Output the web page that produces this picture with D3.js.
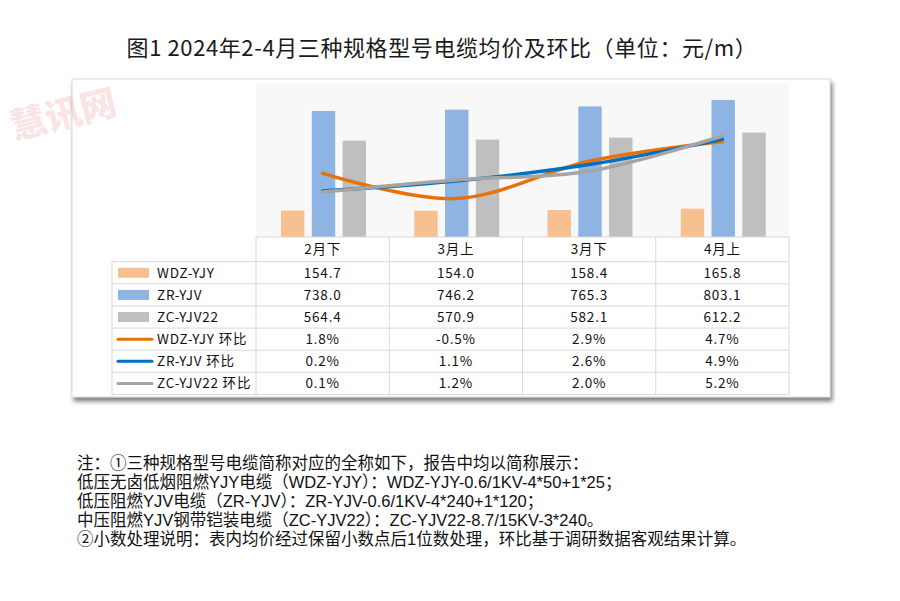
<!DOCTYPE html>
<html><head><meta charset="utf-8">
<script src="https://cdn.jsdelivr.net/npm/d3@7/dist/d3.min.js"></script>
<style>
html,body{margin:0;padding:0;background:#fff;}
svg{display:block;font-family:"Noto Sans CJK SC","Noto Sans",sans-serif;}
</style></head>
<body><svg id="chart" width="900" height="601"></svg>
<script>
const categories = ["2月下", "3月上", "3月下", "4月上"];
const barSeries = ["WDZ-YJY", "ZR-YJV", "ZC-YJV22"];
const wdzPrice = [154.7, 154.0, 158.4, 165.8];
const zrPrice = [738.0, 746.2, 765.3, 803.1];
const zcPrice = [564.4, 570.9, 582.1, 612.2];
const lineSeries = ["WDZ-YJY 环比", "ZR-YJV 环比", "ZC-YJV22 环比"];
const wdzMoM = [1.8, -0.5, 2.9, 4.7];
const zrMoM = [0.2, 1.1, 2.6, 4.9];
const zcMoM = [0.1, 1.2, 2.0, 5.2];
const barColors = ["#F8C091", "#8EB4E3", "#BFBFBF"];
const lineColors = ["#E8710A", "#0070C0", "#A5A5A5"];
const title = "图1 2024年2-4月三种规格型号电缆均价及环比（单位：元/m）";
const notes = [
  "注：①三种规格型号电缆简称对应的全称如下，报告中均以简称展示：",
  "低压无卤低烟阻燃YJY电缆（WDZ-YJY）：WDZ-YJY-0.6/1KV-4*50+1*25；",
  "低压阻燃YJV电缆（ZR-YJV）：ZR-YJV-0.6/1KV-4*240+1*120；",
  "中压阻燃YJV钢带铠装电缆（ZC-YJV22）：ZC-YJV22-8.7/15KV-3*240。",
  "②小数处理说明：表内均价经过保留小数点后1位数处理，环比基于调研数据客观结果计算。"
];

const svg = d3.select("#chart");
const prices = [wdzPrice, zrPrice, zcPrice];
const moms = [wdzMoM, zrMoM, zcMoM];

// title
svg.append("text").attr("x", 442).attr("y", 56).attr("text-anchor", "middle")
  .attr("font-size", 22).attr("letter-spacing", 0.6).attr("fill", "#1a1a1a").text(title);

// frame with shadow
const defs = svg.append("defs");
const f = defs.append("filter").attr("id", "sh").attr("x", "-5%").attr("y", "-5%").attr("width", "115%").attr("height", "120%");
f.append("feDropShadow").attr("dx", 2).attr("dy", 4).attr("stdDeviation", 2).attr("flood-color", "#555").attr("flood-opacity", 0.75);
svg.append("rect").attr("x", 72).attr("y", 79).attr("width", 758).attr("height", 318)
  .attr("fill", "#fff").attr("stroke", "#D9D9D9").attr("filter", "url(#sh)");

// watermark (top-left, clear of other text)
svg.append("text").attr("transform", "translate(14,140) rotate(-14)").attr("font-size", 36)
  .attr("fill", "#E9868A").attr("opacity", 0.22).style("font-weight", "900").text("慧讯网");

// plot area
const plotL = 256, plotR = 789, plotT = 83, plotB = 237;
svg.append("rect").attr("x", plotL).attr("y", plotT).attr("width", plotR - plotL).attr("height", plotB - plotT).attr("fill", "#F8F8F8");

const x = d3.scaleBand().domain(categories).range([plotL, plotR]).paddingInner(0).paddingOuter(0);
const xs = d3.scaleBand().domain(barSeries).range([25, 110]).paddingInner(0.24);
const y = d3.scaleLinear().domain([0, 900]).range([plotB, plotT + 0.4]);
const y2 = d3.scaleLinear().domain([-4, 10]).range([plotB, plotT + 0.4]);

// bars
barSeries.forEach((s, si) => {
  svg.append("g").selectAll("rect").data(prices[si]).join("rect")
    .attr("x", (d, i) => x(categories[i]) + xs(s))
    .attr("y", d => y(d))
    .attr("width", xs.bandwidth())
    .attr("height", d => y(0) - y(d))
    .attr("fill", barColors[si]);
});

// lines
const line = d3.line().x((d, i) => x(categories[i]) + x.bandwidth() / 2).y(d => y2(d)).curve(d3.curveCatmullRom.alpha(0.5));
lineSeries.forEach((s, si) => {
  svg.append("path").datum(moms[si]).attr("d", line).attr("fill", "none")
    .attr("stroke", lineColors[si]).attr("stroke-width", 3.5).attr("stroke-linecap", "round");
});

// table
const tblL = 112;
const headT = 237, headB = 261.7, rowH = 22.13;
const rows = 6;
const tbl = svg.append("g").attr("stroke", "#D9D9D9").attr("stroke-width", 1);
tbl.append("line").attr("x1", plotL).attr("x2", plotR).attr("y1", headT).attr("y2", headT);
const bottom = headB + rows * rowH;
for (let r = 0; r <= rows; r++) {
  tbl.append("line").attr("x1", tblL).attr("x2", plotR).attr("y1", headB + r * rowH).attr("y2", headB + r * rowH);
}
tbl.append("line").attr("x1", tblL).attr("x2", tblL).attr("y1", headB).attr("y2", bottom);
categories.forEach(c => {
  tbl.append("line").attr("x1", x(c)).attr("x2", x(c)).attr("y1", headT).attr("y2", bottom);
});
tbl.append("line").attr("x1", plotR).attr("x2", plotR).attr("y1", headT).attr("y2", bottom);

const txt = svg.append("g").attr("font-size", 13.5).attr("letter-spacing", 0.8).attr("fill", "#111");
categories.forEach(c => {
  txt.append("text").attr("x", x(c) + x.bandwidth() / 2).attr("y", (headT + headB) / 2 + 5)
    .attr("text-anchor", "middle").text(c);
});
const rowLabels = barSeries.concat(lineSeries);
const rowValues = [wdzPrice.map(v => v.toFixed(1)), zrPrice.map(v => v.toFixed(1)), zcPrice.map(v => v.toFixed(1)),
  wdzMoM.map(v => v.toFixed(1) + "%"), zrMoM.map(v => v.toFixed(1) + "%"), zcMoM.map(v => v.toFixed(1) + "%")];
rowLabels.forEach((lab, r) => {
  const cy = headB + r * rowH + rowH / 2;
  if (r < 3) {
    svg.append("rect").attr("x", 118).attr("y", cy - 5).attr("width", 31).attr("height", 10).attr("fill", barColors[r]);
  } else {
    svg.append("line").attr("x1", 118).attr("x2", 152).attr("y1", cy).attr("y2", cy)
      .attr("stroke", lineColors[r - 3]).attr("stroke-width", 3).attr("stroke-linecap", "round");
  }
  txt.append("text").attr("x", 157).attr("y", cy + 5).text(lab);
  rowValues[r].forEach((v, i) => {
    txt.append("text").attr("x", x(categories[i]) + x.bandwidth() / 2).attr("y", cy + 5)
      .attr("text-anchor", "middle").text(v);
  });
});

// notes
const nt = svg.append("g").attr("font-size", 16.5)
  .style("font-family", "'Liberation Sans','Noto Sans CJK SC',sans-serif").attr("fill", "#111");
notes.forEach((n, i) => {
  nt.append("text").attr("x", 77).attr("y", 469 + i * 19.1).text(n);
});
</script></body></html>
